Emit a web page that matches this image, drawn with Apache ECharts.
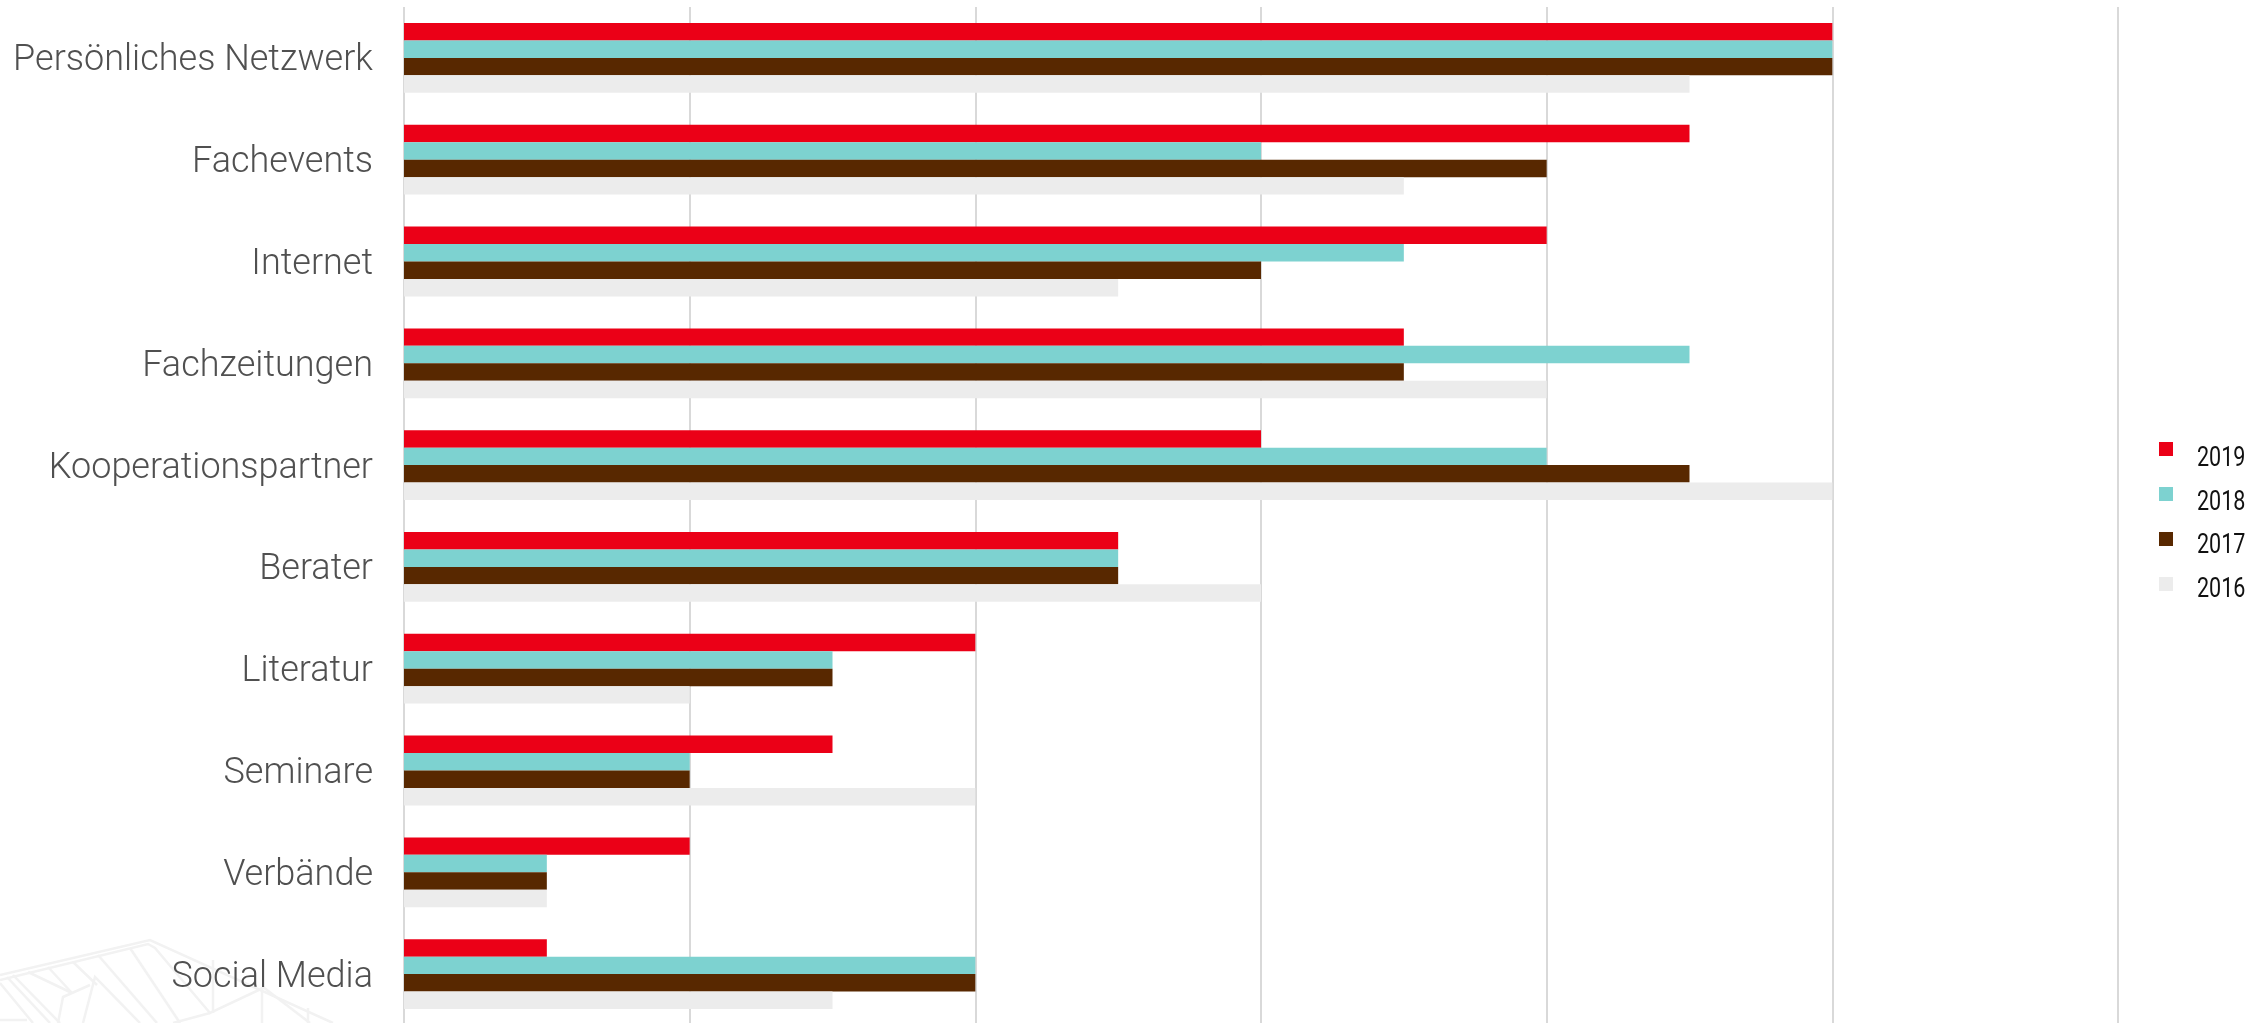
<!DOCTYPE html>
<html><head><meta charset="utf-8">
<style>html,body{margin:0;padding:0;background:#fff}#c{width:2267px;height:1023px}</style>
<script src="https://cdn.jsdelivr.net/npm/echarts@6/dist/echarts.min.js"></script>
</head><body><div id="c"></div>
<script>
const categories = ["Persönliches Netzwerk","Fachevents","Internet","Fachzeitungen","Kooperationspartner","Berater","Literatur","Seminare","Verbände","Social Media"];
const s2019 = [10,9,8,7,6,5,4,3,2,1];
const s2018 = [10,6,7,9,8,5,3,2,1,4];
const s2017 = [10,8,6,7,9,5,3,2,1,4];
const s2016 = [9,7,5,8,10,6,2,4,1,3];
const seriesNames = ["2019","2018","2017","2016"];
const seriesColors = ["#eb0017","#7dd2d0","#582800","#ececec"];
const seriesData = [s2019,s2018,s2017,s2016];
const legendTextY = [459,502.5,546,589.5];
const roofLines = [
 [[0,975],[150,940],[333,1023]],[[0,980],[148,944],[155,948],[210,1013],[263,988]],
 [[7,977],[50,1023]],[[13,975],[60,1023]],[[28,972],[72,993]],[[48,967],[72,993]],[[73,962],[97,985]],
 [[98,955],[157,1023]],[[130,948],[180,1023]],[[83,1023],[95,977],[140,1023]],[[58,1023],[63,997],[90,985]],
 [[0,983],[33,1023]],[[0,1020],[27,1020]],[[213,960],[213,1013]],[[262,987],[262,1023]],[[263,987],[310,1023]],
 [[308,1008],[308,1023]],[[210,1013],[173,1023]]
];
const chart = echarts.init(document.getElementById('c'),null,{renderer:'canvas'});
chart.setOption({
  animation:false,
  backgroundColor:'#fff',
  grid:{left:404,top:7,width:1714,height:1018,containLabel:false,outerBoundsMode:'none'},
  legend:{
    orient:'vertical',left:2159,top:442,padding:0,itemWidth:14,itemHeight:14,itemGap:31,
    icon:'rect',data:seriesNames,selectedMode:false,formatter:()=>'',
    textStyle:{fontSize:10}
  },
  graphic:{elements:[
    ...roofLines.map(pts=>({type:'polyline',silent:true,z:-10,shape:{points:pts},style:{stroke:'#f2f2f2',lineWidth:2.5,fill:null}})),
    ...seriesNames.map((n,i)=>({type:'text',silent:true,x:2197,y:legendTextY[i],scaleX:0.77,
      style:{text:n,fontFamily:'Roboto',fontWeight:400,fontSize:28,fill:'#111',textAlign:'left',textVerticalAlign:'middle'}}))
  ]},
  xAxis:{type:'value',min:0,max:12,interval:2,
    axisLabel:{show:false},axisTick:{show:false},axisLine:{show:false},
    splitLine:{show:true,lineStyle:{color:'#d9d9d9',width:2}}},
  yAxis:{type:'category',inverse:true,data:categories,
    axisTick:{show:false},axisLine:{show:false},
    axisLabel:{margin:31,formatter:v=>`{a|${v}}`,
      rich:{a:{fontFamily:'Roboto',fontWeight:300,fontSize:36,color:'#505050',padding:[7,0,0,0]}}}},
  series:seriesNames.map((n,i)=>({type:'bar',name:n,data:seriesData[i],barGap:0,barCategoryGap:'31.4%',
    itemStyle:{color:seriesColors[i]}}))
});
</script></body></html>
